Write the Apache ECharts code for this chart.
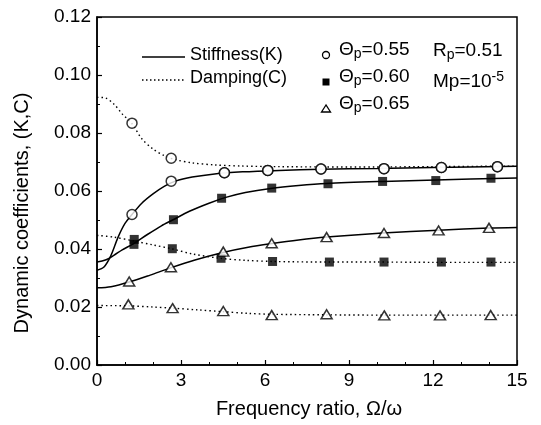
<!DOCTYPE html>
<html><head><meta charset="utf-8">
<script src="https://cdn.jsdelivr.net/npm/echarts@6/dist/echarts.min.js"></script>
<style>html,body{margin:0;padding:0;background:#fff}#c{width:541px;height:425px}</style>
</head><body><div id="c"></div>
<script>
// ---- data ----
const xTickLabels = [0, 3, 6, 9, 12, 15];
const yTickLabels = [0.00, 0.02, 0.04, 0.06, 0.08, 0.10, 0.12];

// Θp = 0.55 (open circles)
const xK55 = [1.25, 2.65, 4.55, 6.1, 8.0, 10.25, 12.3, 14.3];
const kK55 = [0.0519, 0.0634, 0.0663, 0.0671, 0.0676, 0.0677, 0.0681, 0.0684];
const xC55 = [1.25, 2.65, 4.55, 6.1, 8.0, 10.25, 12.3, 14.3];
const cC55 = [0.0834, 0.0713, 0.0663, 0.0671, 0.0676, 0.0677, 0.0681, 0.0684];
const kCurve55x = [0, 0.25, 0.5, 0.75, 1.0, 1.25, 1.6, 2.0, 2.4, 2.8, 3.4, 4.2, 5.2, 6.5, 8.0, 10.0, 12.0, 15];
const kCurve55y = [0.0327, 0.0338, 0.0378, 0.0440, 0.0488, 0.0519, 0.0558, 0.0590, 0.0616, 0.0634, 0.0648, 0.0659, 0.0666, 0.0671, 0.0675, 0.0678, 0.0681, 0.0685];
const cCurve55x = [0, 0.3, 0.6, 0.9, 1.25, 1.6, 2.0, 2.4, 2.8, 3.4, 4.2, 5.2, 6.5, 8.0, 10.0, 12.0, 15];
const cCurve55y = [0.0923, 0.0921, 0.0900, 0.0866, 0.0832, 0.0780, 0.0745, 0.0722, 0.0708, 0.0697, 0.0690, 0.0686, 0.0684, 0.0683, 0.0683, 0.0684, 0.0686];

// Θp = 0.60 (filled squares)
const xK60 = [1.32, 2.73, 4.45, 6.24, 8.25, 10.2, 12.1, 14.07];
const kK60 = [0.0416, 0.0501, 0.0575, 0.0610, 0.0625, 0.0633, 0.0636, 0.0644];
const xC60 = [1.33, 2.69, 4.43, 6.27, 8.3, 10.25, 12.3, 14.07];
const cC60 = [0.0433, 0.0401, 0.0368, 0.0357, 0.0355, 0.0355, 0.0355, 0.0355];
const kCurve60x = [0, 0.3, 0.6, 0.9, 1.3, 1.8, 2.3, 2.7, 3.3, 4.0, 4.6, 5.3, 6.2, 7.2, 8.2, 10.2, 12.1, 15];
const kCurve60y = [0.0355, 0.0362, 0.0378, 0.0397, 0.0418, 0.0450, 0.0480, 0.0500, 0.0530, 0.0558, 0.0578, 0.0595, 0.0609, 0.0619, 0.0626, 0.0633, 0.0638, 0.0645];
const cCurve60x = [0, 0.6, 1.3, 2.0, 2.7, 3.4, 4.4, 5.3, 6.3, 8.3, 10.0, 12.0, 15];
const cCurve60y = [0.0447, 0.0441, 0.0428, 0.0414, 0.0400, 0.0383, 0.0368, 0.0361, 0.0357, 0.0355, 0.0355, 0.0354, 0.0354];

// Θp = 0.65 (open triangles)
const xK65 = [1.15, 2.64, 4.51, 6.24, 8.2, 10.25, 12.2, 14.0];
const kK65 = [0.0288, 0.0337, 0.0391, 0.0420, 0.0441, 0.0455, 0.0464, 0.0473];
const xC65 = [1.12, 2.7, 4.51, 6.24, 8.2, 10.26, 12.25, 14.06];
const cC65 = [0.0209, 0.0196, 0.0186, 0.0172, 0.0175, 0.0171, 0.0171, 0.0172];
const kCurve65x = [0, 0.5, 1.15, 1.9, 2.6, 3.5, 4.5, 5.4, 6.2, 7.2, 8.2, 10.2, 12.2, 14.0, 15];
const kCurve65y = [0.0266, 0.0270, 0.0286, 0.0310, 0.0334, 0.0362, 0.0388, 0.0406, 0.0418, 0.0431, 0.0441, 0.0455, 0.0465, 0.0472, 0.0474];
const cCurve65x = [0, 1.1, 2.0, 2.7, 3.6, 4.5, 5.4, 6.2, 8.2, 10.2, 12.2, 15];
const cCurve65y = [0.0205, 0.0204, 0.0200, 0.0196, 0.0190, 0.0184, 0.0178, 0.0175, 0.0173, 0.0172, 0.0172, 0.0172];

// ---- chart ----
const pairs = (xs, ys) => xs.map((x, i) => [x, ys[i]]);
const FONT = 'Liberation Sans, Arial, sans-serif';
const chart = echarts.init(document.getElementById('c'), null, {renderer: 'canvas'});

function curve(xs, ys, dotted) {
  return {type: 'line', data: pairs(xs, ys), smooth: 0.3, showSymbol: false, symbol: 'none',
    silent: true, z: 2, lineStyle: {color: '#000', width: dotted ? 1.4 : 1.5, type: dotted ? [1.5, 3] : 'solid'}};
}
function marks(xs, ys, shape) {
  const filled = shape === 'rect';
  return {type: 'scatter', data: pairs(xs, ys), symbol: shape,
    symbolSize: shape === 'rect' ? 9 : (shape === 'triangle' ? [11, 9] : 10), z: 5, silent: true,
    itemStyle: {color: filled ? '#000' : '#fff', borderColor: '#000', borderWidth: filled ? 0 : 1.5}};
}

const legendText = (main, sub, rest, x, y) => ({type: 'text', left: x, top: y, style: {
  text: '{m|' + main + '}{s|' + sub + '}{m|' + rest + '}',
  rich: {m: {fontFamily: FONT, fontSize: 19, fill: '#000'}, s: {fontFamily: FONT, fontSize: 14, fill: '#000', padding: [10, 0, 0, 0]}}}});

chart.setOption({
  animation: false,
  backgroundColor: '#fff',
  grid: {left: 97, right: 24, top: 17, bottom: 60, show: true, borderColor: '#000', borderWidth: 1.5, backgroundColor: 'transparent'},
  xAxis: {type: 'value', min: xTickLabels[0], max: xTickLabels[xTickLabels.length - 1], interval: 3,
    axisLine: {lineStyle: {color: '#000', width: 1.5}},
    axisTick: {inside: true, length: 5, lineStyle: {color: '#000', width: 1.2}},
    minorTick: {show: true, splitNumber: 3, length: 3, lineStyle: {color: '#000', width: 1}},
    splitLine: {show: false},
    axisLabel: {color: '#000', fontFamily: FONT, fontSize: 19, margin: 6}},
  yAxis: {type: 'value', min: yTickLabels[0], max: yTickLabels[yTickLabels.length - 1], interval: 0.02,
    axisLine: {show: true, lineStyle: {color: '#000', width: 1.5}},
    axisTick: {show: true, inside: true, length: 5, lineStyle: {color: '#000', width: 1.2}},
    minorTick: {show: true, splitNumber: 2, length: 3, lineStyle: {color: '#000', width: 1}},
    splitLine: {show: false},
    axisLabel: {color: '#000', fontFamily: FONT, fontSize: 19, margin: 6, formatter: v => v.toFixed(2)}},
  series: [
    curve(kCurve55x, kCurve55y, false), curve(cCurve55x, cCurve55y, true),
    curve(kCurve60x, kCurve60y, false), curve(cCurve60x, cCurve60y, true),
    curve(kCurve65x, kCurve65y, false), curve(cCurve65x, cCurve65y, true),
    marks(xK55, kK55, 'circle'), marks(xC55, cC55, 'circle'),
    marks(xK60, kK60, 'rect'), marks(xC60, cC60, 'rect'),
    marks(xK65, kK65, 'triangle'), marks(xC65, cC65, 'triangle')
  ],
  graphic: [
    // axis titles
    {type: 'text', x: 22, y: 213, rotation: Math.PI / 2, style: {text: 'Dynamic coefficients, (K,C)', fontFamily: FONT, fontSize: 20, fill: '#000', align: 'center', verticalAlign: 'middle'}},
    {type: 'text', x: 309, y: 409, style: {text: 'Frequency ratio, Ω/ω', fontFamily: FONT, fontSize: 20, fill: '#000', align: 'center', verticalAlign: 'middle'}},
    // line legend
    {type: 'line', shape: {x1: 142, y1: 57, x2: 185, y2: 57}, style: {stroke: '#000', lineWidth: 1.5}},
    {type: 'text', left: 190, top: 46, style: {text: 'Stiffness(K)', fontFamily: FONT, fontSize: 18, fill: '#000'}},
    {type: 'line', shape: {x1: 142, y1: 80, x2: 185, y2: 80}, style: {stroke: '#000', lineWidth: 1.3, lineDash: [1.5, 2.5]}},
    {type: 'text', left: 190, top: 69, style: {text: 'Damping(C)', fontFamily: FONT, fontSize: 18, fill: '#000'}},
    // symbol legend
    {type: 'circle', shape: {cx: 326, cy: 55, r: 3.5}, style: {fill: '#fff', stroke: '#000', lineWidth: 1.3}},
    {type: 'rect', shape: {x: 322.5, y: 78.5, width: 7, height: 7}, style: {fill: '#000'}},
    {type: 'polygon', shape: {points: [[326, 105], [321.5, 112], [330.5, 112]]}, style: {fill: '#fff', stroke: '#000', lineWidth: 1.3}},
    legendText('Θ', 'p', '=0.55', 339, 40),
    legendText('Θ', 'p', '=0.60', 339, 67),
    legendText('Θ', 'p', '=0.65', 339, 94),
    legendText('R', 'p', '=0.51', 433, 41),
    {type: 'text', left: 433, top: 70, style: {
      text: '{m|Mp=10}{s|-5}',
      rich: {m: {fontFamily: FONT, fontSize: 19, fill: '#000'}, s: {fontFamily: FONT, fontSize: 14, fill: '#000', padding: [0, 0, 10, 0]}}}}
  ]
});
</script></body></html>
